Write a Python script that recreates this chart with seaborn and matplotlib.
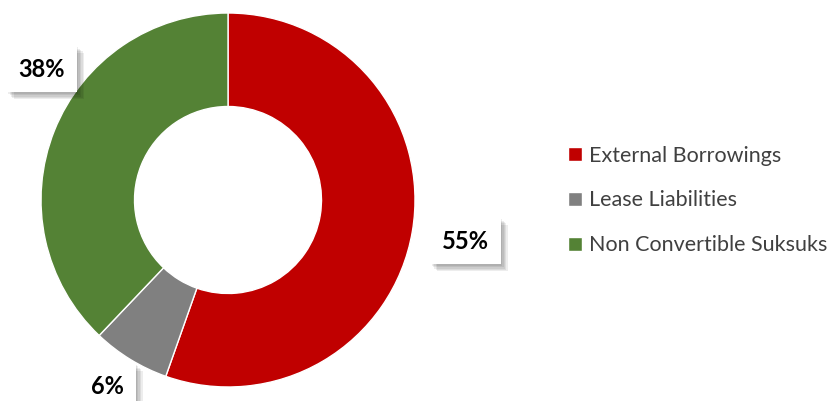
import matplotlib
matplotlib.use("Agg")
import matplotlib.pyplot as plt
import matplotlib.patheffects as pe
import seaborn as sns

categories = ["External Borrowings", "Lease Liabilities", "Non Convertible Suksuks"]
values = [55.4, 6.7, 37.9]
pct_labels = ["55%", "6%", "38%"]
colors = ["#C00000", "#808080", "#548235"]

# label anchor positions in pie data units (layout only)
label_pos = [(1.27, -0.22), (-0.645, -1.0), (-0.995, 0.70)]

sns.set_theme(style="white")
plt.rcParams["font.family"] = ["Lato", "DejaVu Sans"]

fig = plt.figure(figsize=(8.32, 4.01), dpi=100)
ax = fig.add_axes([0.0493, 0.0349, 0.4495, 0.9327])

wedges, _ = ax.pie(values, colors=colors, startangle=90, counterclock=False,
                   radius=1.0, wedgeprops=dict(width=0.5, edgecolor="white", linewidth=1))
ax.set_xlim(-1, 1)
ax.set_ylim(-1, 1)
ax.set_aspect("equal")
ax.axis("off")

shadow = [pe.SimplePatchShadow(offset=(o, -o), shadow_rgbFace="black", alpha=0.07)
          for o in (1, 2, 3, 4, 5)] + [pe.Normal()]

for (x, y), lab in zip(label_pos, pct_labels):
    t = ax.text(x, y, lab, ha="center", va="center", fontsize=17, fontweight="bold",
                color="black", zorder=5,
                bbox=dict(boxstyle="square,pad=0.5", fc="white", ec="none"))
    t.get_bbox_patch().set_path_effects(shadow)

leg = fig.legend(wedges, categories, loc="center left", bbox_to_anchor=(0.66, 0.50),
                 frameon=False, fontsize=15.5, handlelength=0.65, handleheight=0.65,
                 handletextpad=0.3, labelspacing=1.15, labelcolor="#404040")

fig.savefig("out.png", dpi=100)
